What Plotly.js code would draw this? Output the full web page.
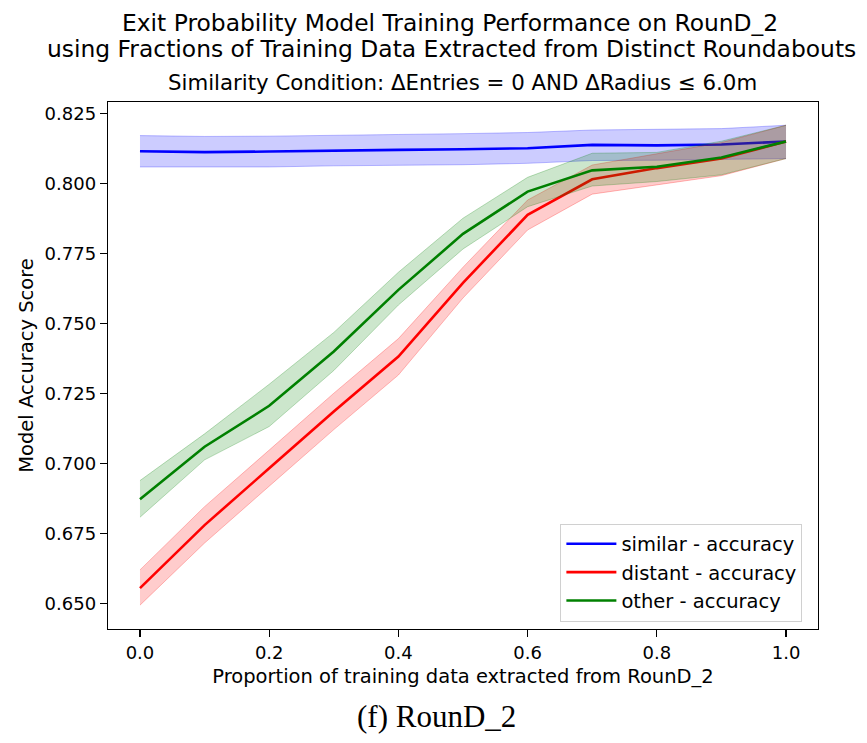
<!DOCTYPE html>
<html>
<head>
<meta charset="utf-8">
<script src="https://cdn.plot.ly/plotly-3.0.1.min.js"></script>
<style>html,body{margin:0;padding:0;background:#fff;}#chart{width:867px;height:743px;}</style>
</head>
<body>
<div id="chart"></div>
<script>
const proportions = [0.0, 0.1, 0.2, 0.3, 0.4, 0.5, 0.6, 0.7, 0.8, 0.9, 1.0];

const similarMean  = [0.8114, 0.8111, 0.8113, 0.8117, 0.8119, 0.8121, 0.8125, 0.8137, 0.8135, 0.8138, 0.8149];
const similarUpper = [0.8170, 0.8167, 0.8168, 0.8172, 0.8174, 0.8177, 0.8181, 0.8190, 0.8192, 0.8195, 0.8207];
const similarLower = [0.8058, 0.8057, 0.8058, 0.8062, 0.8064, 0.8066, 0.8071, 0.8081, 0.8082, 0.8084, 0.8088];

const distantMean  = [0.6554, 0.6779, 0.6982, 0.7185, 0.7381, 0.7644, 0.7887, 0.8014, 0.8054, 0.8088, 0.8149];
const distantUpper = [0.6619, 0.6845, 0.7047, 0.7250, 0.7445, 0.7700, 0.7940, 0.8065, 0.8105, 0.8145, 0.8207];
const distantLower = [0.6493, 0.6715, 0.6918, 0.7120, 0.7315, 0.7590, 0.7833, 0.7961, 0.7994, 0.8027, 0.8088];

const otherMean  = [0.6871, 0.7059, 0.7205, 0.7399, 0.7619, 0.7819, 0.7970, 0.8046, 0.8059, 0.8092, 0.8149];
const otherUpper = [0.6938, 0.7105, 0.7282, 0.7467, 0.7682, 0.7875, 0.8021, 0.8107, 0.8110, 0.8150, 0.8207];
const otherLower = [0.6807, 0.7012, 0.7131, 0.7331, 0.7565, 0.7765, 0.7916, 0.7990, 0.8006, 0.8030, 0.8088];

const seriesNames = ["similar - accuracy", "distant - accuracy", "other - accuracy"];
const tickValsX = [0.0, 0.2, 0.4, 0.6, 0.8, 1.0];
const tickTextX = ["0.0", "0.2", "0.4", "0.6", "0.8", "1.0"];
const tickValsY = [0.650, 0.675, 0.700, 0.725, 0.750, 0.775, 0.800, 0.825];
const tickTextY = ["0.650", "0.675", "0.700", "0.725", "0.750", "0.775", "0.800", "0.825"];

function band(upper, lower, rgb, grp) {
  return [
    {x: proportions, y: upper, mode: 'lines', line: {color: 'rgba(' + rgb + ',0.25)', width: 1},
     showlegend: false, hoverinfo: 'skip', legendgroup: grp},
    {x: proportions, y: lower, mode: 'lines', line: {color: 'rgba(' + rgb + ',0.25)', width: 1},
     fill: 'tonexty', fillcolor: 'rgba(' + rgb + ',0.2)', showlegend: false, hoverinfo: 'skip', legendgroup: grp}
  ];
}
function meanLine(y, color, name, grp) {
  return {x: proportions, y: y, mode: 'lines', name: name, legendgroup: grp, line: {color: color, width: 2.6}};
}

const data = [
  ...band(similarUpper, similarLower, '0,0,255', 'a'),
  meanLine(similarMean, 'rgb(0,0,255)', seriesNames[0], 'a'),
  ...band(distantUpper, distantLower, '255,0,0', 'b'),
  meanLine(distantMean, 'rgb(255,0,0)', seriesNames[1], 'b'),
  ...band(otherUpper, otherLower, '0,128,0', 'c'),
  meanLine(otherMean, 'rgb(0,128,0)', seriesNames[2], 'c')
];

const font = 'DejaVu Sans, sans-serif';
const mL = 108, mR = 49, mT = 102, mB = 114;
const layout = {
  width: 867, height: 743,
  paper_bgcolor: '#fff', plot_bgcolor: '#fff',
  margin: {l: mL, r: mR, t: mT, b: mB},
  font: {family: font, color: '#000', size: 18},
  showlegend: true,
  legend: {
    x: 0.978, y: 0.014, xanchor: 'right', yanchor: 'bottom',
    bgcolor: 'rgba(255,255,255,0.8)', bordercolor: '#d0d0d0', borderwidth: 1,
    font: {family: font, size: 19.5, color: '#000'},
    traceorder: 'grouped', tracegroupgap: 0, itemwidth: 50
  },
  xaxis: {
    range: [-0.0495, 1.0495], tickvals: tickValsX, ticktext: tickTextX,
    showgrid: false, zeroline: false, showline: true, mirror: true, linecolor: '#000', linewidth: 1.3,
    ticks: 'outside', ticklen: 7, tickwidth: 1.3, tickcolor: '#000',
    tickfont: {family: font, size: 18},
    title: {text: 'Proportion of training data extracted from RounD_2', font: {family: font, size: 19.5}, standoff: 7}
  },
  yaxis: {
    range: [0.6408, 0.8290], tickvals: tickValsY, ticktext: tickTextY,
    showgrid: false, zeroline: false, showline: true, mirror: true, linecolor: '#000', linewidth: 1.3,
    ticks: 'outside', ticklen: 7, tickwidth: 1.3, tickcolor: '#000',
    tickfont: {family: font, size: 18},
    title: {text: 'Model Accuracy Score', font: {family: font, size: 19.5}, standoff: 5}
  },
  annotations: [
    {text: 'Exit Probability Model Training Performance on RounD_2', showarrow: false,
     xref: 'paper', yref: 'paper', xanchor: 'center', yanchor: 'middle', font: {family: font, size: 23.4}},
    {text: 'using Fractions of Training Data Extracted from Distinct Roundabouts', showarrow: false,
     xref: 'paper', yref: 'paper', xanchor: 'center', yanchor: 'middle', font: {family: font, size: 23.4}},
    {text: 'Similarity Condition: ΔEntries = 0 AND ΔRadius ≤ 6.0m', showarrow: false,
     xref: 'paper', yref: 'paper', xanchor: 'center', yanchor: 'middle', font: {family: font, size: 21.3}},
    {text: '(f) RounD_2', showarrow: false,
     xref: 'paper', yref: 'paper', xanchor: 'center', yanchor: 'middle',
     font: {family: 'Liberation Serif, DejaVu Serif, serif', size: 31}}
  ]
};

const plotH = 743 - mT - mB;
const plotW = 867 - mL - mR;
function py(pix) { return (743 - mB - pix) / plotH; }
function px(pix) { return (pix - mL) / plotW; }
const annPos = [[450, 23], [451, 49], [462, 82], [436, 716]];
annPos.forEach((p, i) => { layout.annotations[i].x = px(p[0]); layout.annotations[i].y = py(p[1]); });

Plotly.newPlot('chart', data, layout, {displayModeBar: false, staticPlot: true});
</script>
</body>
</html>
